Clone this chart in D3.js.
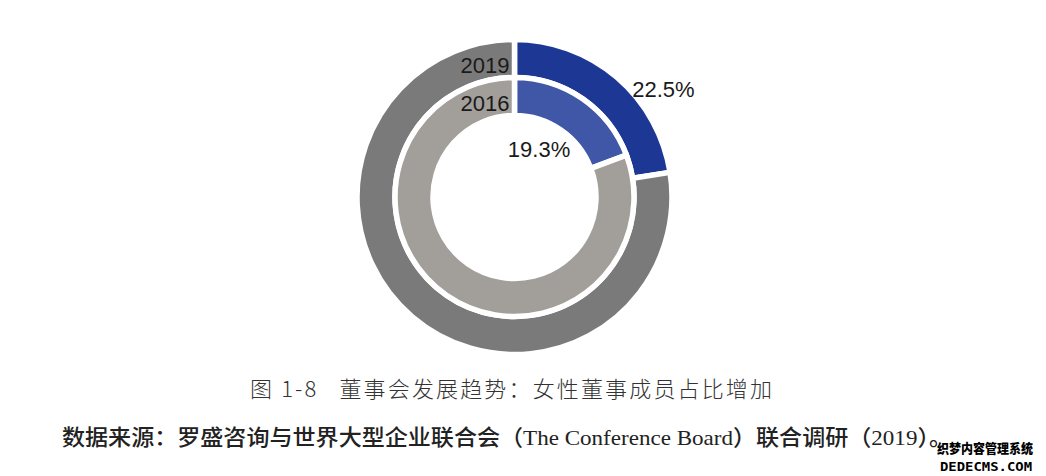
<!DOCTYPE html>
<html>
<head>
<meta charset="utf-8">
<script src="https://cdn.jsdelivr.net/npm/d3@7"></script>
<style>
  body { margin: 0; background: #fff; }
  svg { display: block; }
</style>
</head>
<body>
<div id="chart"></div>
<script>
// 女性董事占比 (outer ring 2019, inner ring 2016)
var years = ["2019", "2016"];
var femaleShare = [22.5, 19.3];
var captionTitle = "图 1-8\u00a0\u00a0\u00a0董事会发展趋势：女性董事成员占比增加";
var captionSource = "数据来源：罗盛咨询与世界大型企业联合会（The Conference Board）联合调研（2019）。";

var svgWidth = 1046;
var svgHeight = 476;

var svg = d3
    .select("#chart")
    .append("svg")
    .attr("width", svgWidth)
    .attr("height", svgHeight);

svg.append("rect").attr("width", svgWidth).attr("height", svgHeight).attr("fill", "#fff");

var cx = 514.5;
var cy = 197;

// ring radii, outer ring first
var rings = [
    { inner: 119.5, outer: 157.5, colors: ["#1d3795", "#7a7a7a"] },
    { inner: 81.5, outer: 119.5, colors: ["#4057a8", "#a29e9a"] }
];

var pie = d3.pie().sort(null).value(function(d) { return d; });

var chartGroup = svg.append("g").attr("transform", `translate(${cx}, ${cy})`);

years.forEach(function(year, i) {
    var ring = rings[i];
    var arc = d3.arc().innerRadius(ring.inner).outerRadius(ring.outer);
    var slices = pie([femaleShare[i], 100 - femaleShare[i]]);

    chartGroup
        .append("g")
        .selectAll("path")
        .data(slices)
        .join("path")
        .attr("d", arc)
        .attr("fill", function(d, j) { return ring.colors[j]; })
        .attr("stroke", "#fff")
        .attr("stroke-width", 5.5)
        .attr("stroke-linejoin", "miter");

    // year label, right aligned at the top of each ring
    chartGroup
        .append("text")
        .attr("x", -5)
        .attr("y", -(ring.outer + ring.inner) / 2 + 14)
        .attr("text-anchor", "end")
        .attr("font-family", "Liberation Sans, Arial, sans-serif")
        .attr("font-size", 22)
        .attr("fill", "#1a1a1a")
        .text(year);
});

// percent labels, placed by angle/radius around the centre
var labelPos = [
    { angle: 54, radius: 184 },
    { angle: 27, radius: 54 }
];
femaleShare.forEach(function(v, i) {
    var a = labelPos[i].angle * Math.PI / 180;
    chartGroup
        .append("text")
        .attr("x", Math.sin(a) * labelPos[i].radius)
        .attr("y", -Math.cos(a) * labelPos[i].radius + 8)
        .attr("text-anchor", "middle")
        .attr("font-family", "Liberation Sans, Arial, sans-serif")
        .attr("font-size", 22)
        .attr("fill", "#1a1a1a")
        .text(d3.format(".1f")(v) + "%");
});

// captions
svg.append("text")
    .attr("x", 250)
    .attr("y", 397)
    .attr("font-family", "Noto Sans CJK SC, sans-serif")
    .attr("font-weight", 300)
    .attr("font-size", 22)
    .attr("fill", "#333")
    .attr("textLength", 522)
    .attr("lengthAdjust", "spacing")
    .text(captionTitle);

svg.append("text")
    .attr("x", 62)
    .attr("y", 445)
    .attr("font-family", "Liberation Serif, Noto Sans CJK SC, serif")
    .attr("font-weight", 500)
    .attr("font-size", 22)
    .attr("fill", "#222")
    .attr("textLength", 890)
    .attr("lengthAdjust", "spacingAndGlyphs")
    .text(captionSource);

// site watermark in the corner
svg.append("text")
    .attr("x", 985)
    .attr("y", 453)
    .attr("text-anchor", "middle")
    .attr("font-family", "Noto Sans CJK SC, sans-serif")
    .attr("font-weight", 900)
    .attr("font-size", 13)
    .attr("fill", "#000")
    .attr("textLength", 96)
    .attr("lengthAdjust", "spacingAndGlyphs")
    .text("织梦内容管理系统");

svg.append("text")
    .attr("x", 986)
    .attr("y", 471)
    .attr("text-anchor", "middle")
    .attr("font-family", "DejaVu Sans Mono, monospace")
    .attr("font-weight", 700)
    .attr("font-size", 13)
    .attr("fill", "#000")
    .attr("textLength", 92)
    .attr("lengthAdjust", "spacingAndGlyphs")
    .text("DEDECMS.COM");
</script>
</body>
</html>
